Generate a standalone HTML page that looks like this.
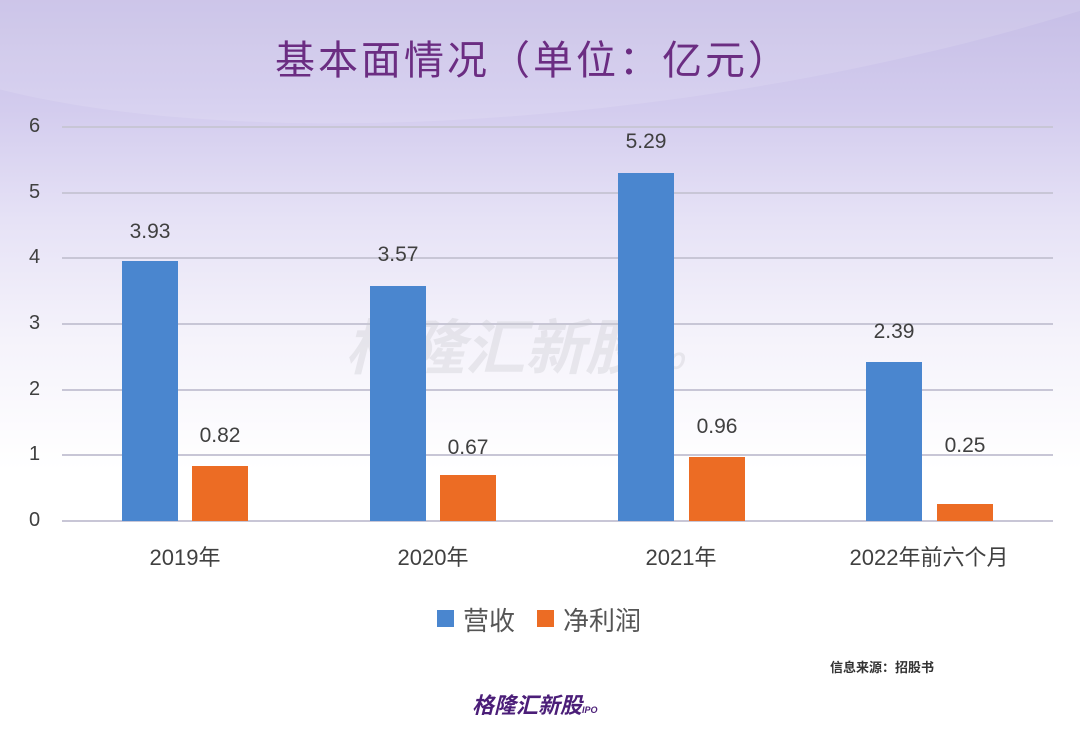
<!DOCTYPE html>
<html><head><meta charset="utf-8"><style>
html,body{margin:0;padding:0}
body{width:1080px;height:742px;position:relative;overflow:hidden;font-family:"Liberation Sans","Noto Sans CJK SC",sans-serif;
background:linear-gradient(180deg,#c6bee6 0px,#d3ccee 110px,#e6e2f6 220px,#f5f3fb 340px,#ffffff 470px,#ffffff 742px);}
.band{position:absolute;left:-200px;top:-420px;width:1700px;height:520px;border-radius:50%;background:rgba(255,255,255,0.12);transform:rotate(-8deg)}
.t{position:absolute;white-space:nowrap}
.grid{position:absolute;left:62px;width:991px;height:2px;background:#c8c6d6}
.bar{position:absolute;width:56px}
.b{background:#4a86cf}.o{background:#ec6c24}
.v{position:absolute;width:100px;text-align:center;font-size:21px;color:#404040}
.yl{position:absolute;left:29px;font-size:20px;color:#404040}
.xl{position:absolute;width:260px;text-align:center;font-size:22px;color:#404040;top:540px}
</style></head><body>
<div class="band"></div>
<div class="t" style="left:275px;top:28px;font-size:40px;letter-spacing:3px;color:#6b2d82;font-family:'Noto Sans CJK SC',sans-serif;">基本面情况（单位：亿元）</div>
<div class="grid" style="top:126px"></div><div class="yl" style="top:115px">6</div>
<div class="grid" style="top:192px"></div><div class="yl" style="top:181px">5</div>
<div class="grid" style="top:257px"></div><div class="yl" style="top:246px">4</div>
<div class="grid" style="top:323px"></div><div class="yl" style="top:312px">3</div>
<div class="grid" style="top:389px"></div><div class="yl" style="top:378px">2</div>
<div class="grid" style="top:454px"></div><div class="yl" style="top:443px">1</div>
<div class="grid" style="top:520px"></div><div class="yl" style="top:509px">0</div>
<div class="t" style="left:345px;top:300px;font-size:60px;font-weight:bold;font-style:italic;color:rgba(200,200,205,0.35);font-family:'Noto Sans CJK SC',sans-serif">格隆汇新股<span style="font-size:22px">IPO</span></div>
<div class="bar b" style="left:122px;top:261px;height:260px"></div>
<div class="bar o" style="left:192px;top:466px;height:55px"></div>
<div class="bar b" style="left:370px;top:286px;height:235px"></div>
<div class="bar o" style="left:440px;top:475px;height:46px"></div>
<div class="bar b" style="left:618px;top:173px;height:348px"></div>
<div class="bar o" style="left:689px;top:457px;height:64px"></div>
<div class="bar b" style="left:866px;top:362px;height:159px"></div>
<div class="bar o" style="left:937px;top:504px;height:17px"></div>
<div class="v" style="left:100px;top:220px">3.93</div>
<div class="v" style="left:170px;top:424px">0.82</div>
<div class="v" style="left:348px;top:243px">3.57</div>
<div class="v" style="left:418px;top:436px">0.67</div>
<div class="v" style="left:596px;top:130px">5.29</div>
<div class="v" style="left:667px;top:415px">0.96</div>
<div class="v" style="left:844px;top:320px">2.39</div>
<div class="v" style="left:915px;top:434px">0.25</div>
<div class="xl" style="left:55px">2019年</div>
<div class="xl" style="left:303px">2020年</div>
<div class="xl" style="left:551px">2021年</div>
<div class="xl" style="left:799px">2022年前六个月</div>
<div style="position:absolute;left:437px;top:610px;width:17px;height:17px;background:#4a86cf"></div>
<div class="t" style="left:463px;top:601px;font-size:26px;color:#555">营收</div>
<div style="position:absolute;left:537px;top:610px;width:17px;height:17px;background:#ec6c24"></div>
<div class="t" style="left:563px;top:601px;font-size:26px;color:#555">净利润</div>
<div class="t" style="left:830px;top:657px;font-size:13px;font-weight:bold;color:#333">信息来源：招股书</div>
<div class="t" style="left:472px;top:688px;font-size:22px;font-weight:bold;font-style:italic;color:#4b1e78">格隆汇新股<span style="font-size:9px;color:#4b1e78">IPO</span></div>
</body></html>
